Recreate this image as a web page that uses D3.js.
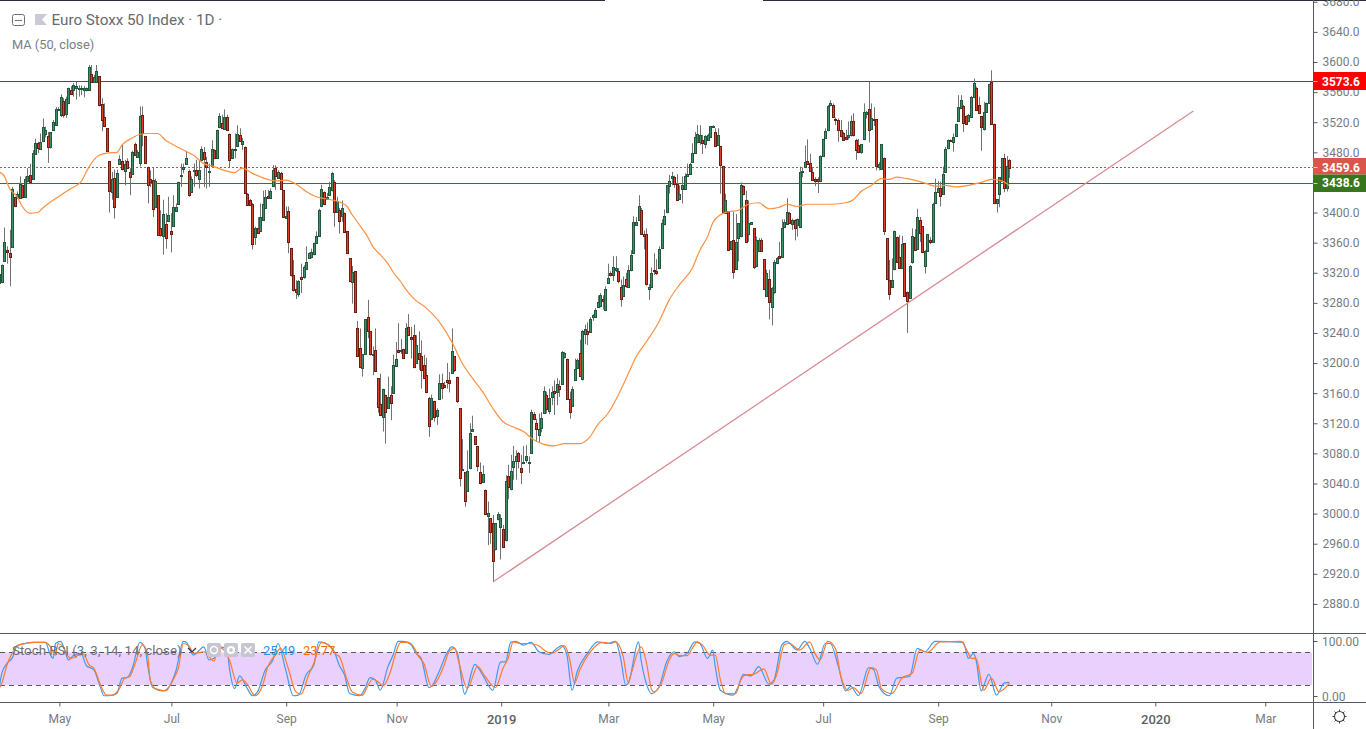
<!DOCTYPE html>
<html><head><meta charset="utf-8"><title>Euro Stoxx 50 Index</title>
<script src="https://cdn.jsdelivr.net/npm/d3@7/dist/d3.min.js"></script>
<style>html,body{margin:0;padding:0;background:#fff;overflow:hidden}svg{display:block}text{font-family:Roboto,sans-serif}</style>
</head><body><svg id="c" width="1366" height="729"></svg>
<script>
const opens=[3306,3307,3336,3350,3346,3354,3420,3420,3420,3436,3420,3441,3450,3445,3478,3493,3485,3494,3505,3502,3487,3510,3517,3537,3530,3548,3531,3545,3563,3563,3565,3565,3565,3563,3562,3563,3584,3574,3574,3581,3544,3527,3512,3468,3428,3446,3421,3465,3468,3456,3469,3454,3452,3491,3475,3465,3529,3502,3460,3444,3443,3408,3423,3379,3369,3385,3389,3376,3382,3402,3412,3450,3458,3465,3455,3428,3456,3456,3445,3470,3481,3467,3455,3462,3483,3473,3513,3519,3511,3527,3505,3472,3484,3488,3503,3491,3487,3424,3417,3412,3367,3379,3376,3391,3406,3422,3420,3436,3459,3446,3453,3430,3393,3402,3353,3317,3298,3292,3314,3314,3325,3340,3340,3344,3360,3370,3408,3427,3418,3423,3429,3441,3401,3404,
3396,3400,3375,3339,3308,3322,3246,3220,3194,3212,3261,3242,3212,3218,3180,3145,3128,3157,3140,3158,3161,3196,3218,3218,3219,3213,3248,3234,3237,3200,3214,3210,3198,3184,3154,3126,3149,3129,3152,3174,3171,3177,3178,3187,3209,3182,3140,3059,3055,3030,3060,3110,3103,3090,3055,3042,3032,2997,2994,2988,2952,2992,2982,2979,2965,3050,3032,3062,3069,3080,3061,3067,3072,3069,3080,3132,3121,3105,3114,3134,3157,3137,3155,3163,3162,3170,3173,3208,3205,3152,3143,3177,3194,3213,3179,3239,3243,3242,3262,3262,3275,3275,3285,3271,3307,3319,3317,3323,3322,3301,3290,3312,3301,3323,3346,3384,3390,3404,3371,3372,3298,3302,3323,3322,3327,3353,3386,3400,3435,3445,3447,3438,3419,
3431,3431,3449,3451,3467,3479,3494,3494,3496,3492,3496,3500,3515,3507,3490,3488,3462,3400,3402,3352,3363,3325,3366,3368,3435,3417,3371,3385,3379,3330,3350,3364,3338,3289,3312,3275,3294,3334,3342,3341,3381,3385,3399,3385,3390,3383,3381,3455,3460,3469,3466,3454,3445,3445,3442,3476,3499,3509,3542,3543,3524,3523,3509,3506,3500,3500,3502,3521,3497,3490,3481,3497,3530,3538,3511,3524,3524,3461,3458,3473,3366,3311,3301,3324,3367,3341,3326,3359,3295,3287,3334,3368,3352,3390,3382,3329,3349,3364,3362,3413,3428,3432,3425,3454,3485,3496,3494,3502,3522,3540,3541,3528,3521,3527,3553,3566,3543,3528,3510,3534,3546,3574,3518,3413,3424,3442,3473,3433,3470];
const highs=[3319,3331,3380,3355,3377,3434,3421,3428,3448,3437,3448,3459,3465,3483,3498,3494,3505,3525,3514,3507,3507,3523,3540,3540,3557,3552,3554,3566,3568,3572,3574,3569,3569,3568,3566,3596,3596,3583,3596,3581,3552,3545,3512,3468,3454,3457,3457,3476,3490,3470,3472,3459,3482,3493,3483,3541,3541,3502,3461,3456,3459,3445,3423,3403,3417,3399,3421,3399,3423,3412,3441,3465,3465,3482,3457,3448,3465,3470,3470,3488,3487,3474,3465,3496,3484,3510,3532,3530,3537,3530,3505,3485,3505,3516,3512,3499,3488,3426,3418,3413,3381,3394,3412,3429,3430,3430,3432,3463,3463,3456,3454,3430,3408,3408,3353,3337,3310,3310,3332,3330,3355,3347,3352,3360,3375,3405,3437,3428,3426,3441,3454,3443,3421,3406,
3416,3400,3375,3339,3329,3322,3256,3246,3212,3258,3284,3242,3222,3246,3180,3186,3166,3158,3182,3169,3211,3228,3253,3232,3219,3253,3265,3248,3251,3237,3242,3230,3211,3207,3155,3158,3150,3140,3185,3186,3175,3200,3188,3246,3209,3182,3140,3099,3055,3084,3120,3130,3103,3090,3068,3064,3032,3016,2994,2998,2987,3002,2999,2985,3051,3065,3078,3090,3084,3082,3078,3090,3091,3076,3138,3135,3126,3133,3135,3169,3162,3166,3169,3177,3180,3177,3216,3215,3206,3162,3169,3206,3206,3231,3244,3251,3254,3261,3265,3273,3290,3293,3290,3302,3332,3322,3342,3342,3326,3311,3315,3320,3330,3350,3395,3394,3423,3406,3376,3379,3305,3327,3346,3338,3355,3391,3404,3436,3450,3454,3449,3451,3436,
3448,3452,3465,3466,3492,3507,3516,3516,3503,3503,3505,3515,3516,3512,3512,3488,3462,3425,3402,3362,3401,3398,3386,3440,3436,3429,3416,3387,3379,3368,3366,3366,3338,3324,3324,3301,3337,3341,3361,3391,3391,3419,3401,3392,3391,3392,3461,3460,3489,3497,3478,3459,3447,3447,3476,3498,3512,3543,3549,3545,3526,3525,3523,3507,3510,3521,3529,3532,3498,3498,3491,3545,3535,3574,3545,3540,3524,3467,3491,3473,3366,3337,3339,3376,3368,3370,3369,3359,3295,3330,3379,3378,3405,3394,3382,3350,3371,3367,3413,3445,3442,3441,3461,3487,3497,3497,3505,3518,3556,3556,3543,3529,3531,3555,3578,3567,3554,3528,3547,3546,3571,3589,3518,3418,3447,3472,3478,3475,3471];
const lows=[3286,3306,3335,3332,3302,3353,3407,3418,3420,3419,3419,3440,3439,3444,3477,3479,3483,3494,3500,3466,3485,3510,3516,3535,3527,3526,3526,3544,3557,3554,3550,3554,3556,3553,3561,3562,3572,3573,3573,3541,3508,3514,3481,3400,3417,3392,3420,3464,3456,3436,3459,3423,3451,3475,3474,3461,3488,3465,3412,3434,3394,3407,3369,3368,3344,3352,3388,3347,3381,3401,3411,3434,3452,3464,3421,3427,3434,3447,3432,3469,3434,3432,3434,3461,3472,3472,3512,3512,3510,3509,3460,3471,3472,3487,3494,3483,3426,3409,3409,3351,3357,3373,3375,3390,3405,3418,3419,3435,3430,3445,3431,3393,3392,3346,3315,3295,3285,3288,3293,3312,3324,3339,3339,3343,3359,3369,3407,3410,3417,3422,3428,3381,3400,3372,
3388,3374,3345,3308,3279,3267,3208,3194,3182,3211,3233,3210,3184,3188,3134,3130,3109,3093,3139,3124,3160,3195,3213,3212,3206,3212,3237,3206,3193,3199,3191,3166,3179,3160,3102,3124,3122,3118,3151,3152,3168,3166,3161,3186,3188,3147,3036,3058,3009,3029,3059,3109,3091,3056,3039,3041,2999,2958,2960,2909,2951,2991,2939,2954,2963,3019,3031,3045,3045,3060,3039,3066,3067,3054,3079,3124,3095,3095,3108,3133,3133,3132,3144,3131,3144,3155,3172,3206,3151,3126,3142,3176,3193,3182,3177,3225,3224,3240,3256,3261,3273,3274,3271,3270,3305,3315,3309,3321,3306,3275,3288,3300,3300,3322,3345,3383,3389,3371,3351,3303,3284,3301,3317,3317,3326,3352,3383,3399,3425,3436,3433,3417,3418,
3412,3430,3448,3450,3466,3478,3492,3490,3478,3485,3495,3499,3513,3487,3489,3425,3400,3399,3349,3350,3312,3324,3335,3367,3423,3361,3361,3384,3325,3329,3349,3348,3297,3288,3258,3250,3292,3332,3338,3340,3380,3384,3385,3377,3363,3368,3380,3447,3459,3464,3454,3442,3435,3426,3441,3475,3498,3508,3541,3527,3516,3494,3500,3495,3496,3497,3501,3501,3470,3479,3478,3496,3525,3493,3510,3515,3456,3456,3457,3370,3311,3284,3300,3323,3333,3326,3325,3288,3240,3286,3332,3350,3351,3361,3346,3319,3348,3358,3361,3412,3427,3408,3424,3453,3484,3494,3481,3501,3521,3539,3507,3517,3520,3526,3552,3536,3531,3482,3509,3533,3545,3518,3413,3400,3407,3441,3427,3428,3446];
const closes=[3318,3330,3361,3347,3341,3431,3408,3424,3438,3420,3444,3448,3441,3479,3492,3486,3494,3513,3510,3487,3507,3520,3538,3537,3554,3529,3551,3565,3558,3570,3568,3566,3566,3565,3565,3593,3574,3580,3588,3542,3523,3515,3482,3428,3445,3407,3453,3471,3457,3465,3460,3448,3481,3476,3481,3528,3505,3466,3436,3440,3404,3442,3370,3370,3398,3366,3397,3372,3407,3407,3441,3450,3461,3473,3423,3445,3456,3449,3457,3485,3472,3461,3455,3484,3473,3510,3528,3513,3527,3510,3470,3484,3484,3504,3495,3495,3426,3410,3410,3359,3379,3373,3394,3412,3420,3420,3429,3457,3448,3454,3432,3394,3396,3361,3317,3297,3294,3309,3312,3327,3334,3346,3347,3359,3369,3404,3431,3411,3421,3434,3452,3401,3415,3390,
3406,3375,3346,3309,3321,3267,3209,3195,3212,3258,3243,3211,3212,3190,3141,3130,3165,3135,3155,3147,3198,3205,3215,3218,3207,3246,3238,3231,3194,3224,3206,3191,3181,3161,3117,3154,3128,3137,3173,3167,3169,3174,3174,3216,3190,3150,3047,3059,3017,3056,3107,3113,3093,3064,3040,3052,3000,3001,2975,2937,2987,2999,2994,2955,3043,3035,3056,3070,3076,3070,3056,3068,3077,3069,3135,3125,3113,3113,3127,3163,3138,3154,3162,3160,3172,3166,3215,3213,3152,3135,3166,3192,3204,3183,3243,3245,3239,3259,3264,3271,3281,3290,3282,3299,3313,3317,3327,3326,3309,3285,3304,3303,3324,3343,3387,3388,3409,3372,3368,3305,3301,3320,3322,3320,3352,3386,3396,3436,3442,3448,3438,3417,3425,
3436,3448,3451,3464,3479,3500,3504,3503,3492,3502,3503,3515,3515,3489,3503,3463,3401,3417,3350,3362,3321,3361,3386,3436,3424,3361,3386,3387,3327,3364,3364,3350,3298,3319,3281,3300,3334,3340,3339,3379,3387,3401,3386,3390,3380,3391,3454,3455,3467,3465,3456,3444,3443,3442,3475,3498,3508,3541,3545,3527,3523,3510,3501,3497,3498,3503,3521,3502,3484,3481,3491,3533,3533,3510,3525,3523,3462,3465,3491,3376,3311,3292,3310,3375,3334,3327,3358,3289,3283,3329,3369,3351,3394,3373,3348,3349,3371,3361,3412,3427,3433,3421,3451,3485,3496,3495,3500,3518,3540,3550,3518,3518,3529,3553,3572,3537,3532,3513,3533,3546,3571,3518,3413,3418,3447,3472,3433,3462,3459.6];
const maBars=[0,2,4,7,9,12,15,17,20,24,28,32,34,37,39,42,46,48,52,55,58,62,65,68,72,76,80,84,88,92,95,99,105,108,112,116,120,124,128,133,136,138,141,144,146,149,152,154,157,159,162,167,172,177,181,185,189,193,197,201,205,209,213,217,221,227,231,234,238,242,246,249,253,258,262,266,271,274,277,279,282,285,289,293,297,301,305,308,312,316,324,331,334,337,341,345,348,351,355,359,363,366,370,374,379,384,388,392,395];
const maValues=[3454,3448,3432,3421,3408,3399,3400,3406,3414,3423,3432,3441,3454,3470,3476,3479,3480,3490,3499,3504,3505,3505,3496,3490,3483,3476,3465,3461,3456,3453,3459,3452,3444,3442,3443,3438,3428,3421,3418,3414,3408,3397,3383,3368,3355,3344,3332,3321,3308,3298,3286,3273,3255,3228,3200,3180,3162,3140,3122,3115,3109,3098,3092,3090,3093,3093,3102,3118,3133,3157,3186,3208,3228,3255,3284,3304,3326,3350,3368,3386,3397,3401,3403,3411,3413,3405,3407,3411,3408,3411,3411,3413,3417,3428,3436,3445,3444,3447,3445,3442,3438,3435,3436,3434,3436,3440,3444,3442,3436];
const kBars=[0,1,3,5,7,9,13,18,20,21,22,24,26,27,29,32,34,37,39,41,43,46,48,50,52,55,57,58,60,64,67,69,72,73,76,80,82,84,86,89,90,92,94,97,99,101,104,107,109,112,115,117,120,123,125,129,131,133,135,137,141,143,145,147,149,152,154,156,158,161,163,165,168,169,172,175,177,179,182,186,189,193,196,198,200,202,205,208,211,215,218,220,222,224,226,230,234,238,241,243,245,246,250,251,253,255,258,261,264,266,269,272,274,277,279,280,282,287,289,291,294,297,301,303,306,308,312,315,317,320,323,325,328,331,333,336,340,342,344,348,351,356,359,362,366,377,379,381,382,384,387,390,393,395];
const kValues=[16,42,60,69,92,95,98,98,75,69,96,100,78,66,74,78,56,48,24,1,1,5,33,34,51,98,87,57,16,10,22,45,100,99,75,90,66,69,90,87,51,14,37,14,1,8,48,66,96,48,1,2,39,57,99,93,81,56,39,5,1,14,34,30,11,54,75,100,100,94,78,69,16,18,45,78,90,81,4,58,39,11,62,63,98,100,93,98,81,76,87,92,75,11,45,78,99,96,100,69,20,24,99,66,24,5,17,63,81,72,78,99,96,69,84,54,11,2,18,40,37,54,22,30,93,100,84,100,87,58,96,96,57,10,18,1,52,48,18,1,33,36,87,81,100,98,69,78,66,10,40,2,24,25.49];
const dBars=[0,1,3,5,7,10,14,18,20,22,23,25,27,28,31,33,35,37,40,42,44,47,49,51,53,56,58,59,61,65,68,70,72,74,76,80,84,85,87,90,93,95,97,100,103,105,108,110,113,116,118,121,123,126,129,132,133,136,138,142,144,146,148,150,153,155,157,160,162,164,166,169,171,174,176,178,180,183,187,190,194,197,199,201,204,207,211,213,216,219,221,223,225,227,231,236,239,241,244,246,247,251,253,255,256,259,262,264,266,269,271,273,275,278,280,282,284,288,290,292,295,299,302,304,307,309,313,317,319,321,324,327,329,332,334,337,341,343,345,349,353,357,360,363,368,376,379,380,382,385,388,391,395];
const dValues=[15,24,57,78,92,96,98,98,90,75,96,90,72,69,75,76,58,51,16,2,2,14,33,36,58,94,75,30,14,10,30,51,96,93,78,81,64,78,87,66,24,30,22,1,20,54,75,87,51,8,4,39,60,98,92,75,72,30,8,2,18,31,27,19,45,78,98,98,90,72,60,18,27,57,82,87,57,14,54,36,16,51,69,99,96,96,92,84,78,86,92,69,24,48,80,98,96,99,72,25,39,90,63,14,8,24,66,78,74,74,87,99,93,75,75,30,5,5,30,39,40,50,22,39,94,96,84,99,78,66,100,87,39,11,16,5,52,48,14,5,33,42,84,80,99,100,78,69,69,11,33,8,23.77];
const priceTicks=[2880,2920,2960,3000,3040,3080,3120,3160,3200,3240,3280,3320,3360,3400,3480,3520,3560,3600,3640,3680];
const timeTickBars=[23.5,67.3,112.2,155.4,196.3,238.2,279.2,322.2,367.2,411.4,452.1,495.1];
const timeTickLabels=["May","Jul","Sep","Nov","2019","Mar","May","Jul","Sep","Nov","2020","Mar"];
const levels=[3573.6,3459.6,3438.6];
const levelLabels=["3573.6","3459.6","3438.6"];
const levelColors=["#ff0000","#d9574a","#38761d"];
const levelDash=[null,"2,2",null];
const trendBars=[193,467];
const trendPrices=[2909,3535];

const svg=d3.select("#c");
const axisX=1313.5;
const x=d3.scaleLinear().domain([0,395]).range([-0.7,1009.3]);
const y=d3.scaleLinear().domain([2880,3640]).range([603.9,31.9]);
const yS=d3.scaleLinear().domain([0,100]).range([696.3,641.3]);
const grey="#555a60",labelGrey="#777b80";

svg.append("defs").html('<clipPath id="pp"><rect x="0" y="0" width="1313" height="633"/></clipPath><clipPath id="sp"><rect x="0" y="634" width="1313" height="68"/></clipPath>');

// Stoch pane band
svg.append("rect").attr("x",0).attr("width",1312).attr("y",yS(80)).attr("height",yS(20)-yS(80)).attr("fill","#e9d0fd");
[80,20].forEach(v=>svg.append("line").attr("x1",0).attr("x2",1313).attr("y1",Math.round(yS(v))+.5).attr("y2",Math.round(yS(v))+.5).attr("stroke",grey).attr("stroke-dasharray","5,4"));

const price=svg.append("g").attr("clip-path","url(#pp)");
// level lines
levels.forEach((v,i)=>{const l=price.append("line").attr("x1",0).attr("x2",1313).attr("y1",Math.floor(y(v))+.5).attr("y2",Math.floor(y(v))+.5).attr("stroke",levelColors[i]==="#d9574a"?"#c94f42":levelColors[i]);if(levelDash[i])l.attr("stroke-dasharray",levelDash[i]);});

// candles
const bars=d3.range(opens.length);
price.append("g").selectAll("line").data(bars).join("line")
 .attr("x1",i=>Math.round(x(i))+.5).attr("x2",i=>Math.round(x(i))+.5)
 .attr("y1",i=>y(highs[i])).attr("y2",i=>y(lows[i])).attr("stroke","#737373");
price.append("g").selectAll("rect").data(bars).join("rect")
 .attr("x",i=>Math.round(x(i))-.5).attr("width",2)
 .attr("y",i=>Math.round(y(Math.max(opens[i],closes[i])))+.5)
 .attr("height",i=>Math.max(1,Math.round(Math.abs(y(opens[i])-y(closes[i])))))
 .attr("fill",i=>closes[i]>=opens[i]?"#3f8f68":"#d9412b")
 .attr("stroke",i=>closes[i]>=opens[i]?"#21573c":"#6e1c12").attr("stroke-width",1);

// MA
price.append("path").datum(maBars.map((b,i)=>[b,maValues[i]]))
 .attr("fill","none").attr("stroke","#ff9040").attr("stroke-width",1.2)
 .attr("d",d3.line().x(d=>x(d[0])).y(d=>y(d[1])).curve(d3.curveMonotoneX));
// Trend line
price.append("line").attr("x1",x(trendBars[0])).attr("y1",y(trendPrices[0])).attr("x2",x(trendBars[1])).attr("y2",y(trendPrices[1])).attr("stroke","#d88a92").attr("stroke-width",1.3);

// Stoch lines
const stoch=svg.append("g").attr("clip-path","url(#sp)");
const sl=d3.line().x(d=>x(d[0])).y(d=>yS(d[1])).curve(d3.curveMonotoneX);
stoch.append("path").attr("d",sl(kBars.map((b,i)=>[b,kValues[i]]))).attr("fill","none").attr("stroke","#3f9bf0").attr("stroke-width",1.2);
stoch.append("path").attr("d",sl(dBars.map((b,i)=>[b,dValues[i]]))).attr("fill","none").attr("stroke","#ff7a2a").attr("stroke-width",1.2);

// frame lines
svg.append("line").attr("x1",0).attr("x2",605).attr("y1",.5).attr("y2",.5).attr("stroke","#2a2e39");
svg.append("line").attr("x1",763).attr("x2",1366).attr("y1",.5).attr("y2",.5).attr("stroke","#2a2e39");
[633.5,702.5].forEach(v=>svg.append("line").attr("x1",0).attr("x2",1366).attr("y1",v).attr("y2",v).attr("stroke",grey));

// Price axis
const ax=svg.append("g").attr("transform",`translate(${axisX},0)`)
 .call(d3.axisRight(y).tickValues(priceTicks).tickSize(4).tickPadding(5).tickFormat(d3.format(".1f")));
ax.select(".domain").remove();
ax.selectAll("line").attr("stroke",grey);
ax.selectAll("text").attr("fill",labelGrey).attr("font-size",12).attr("font-family","Roboto,sans-serif");
svg.append("line").attr("x1",axisX).attr("x2",axisX).attr("y1",0).attr("y2",729).attr("stroke",grey);

// Level tags
const boxes=[[72,90],[158,174.5],[174.5,192]];
levels.forEach((v,i)=>{
 svg.append("rect").attr("x",axisX-.5).attr("y",boxes[i][0]).attr("width",53).attr("height",boxes[i][1]-boxes[i][0]).attr("fill",levelColors[i]);
 svg.append("line").attr("x1",axisX).attr("x2",axisX+4).attr("y1",Math.floor(y(v))+.5).attr("y2",Math.floor(y(v))+.5).attr("stroke","#fff").attr("stroke-opacity",.7);
 svg.append("text").attr("x",1322).attr("y",y(v)-.3).attr("dy","0.35em").attr("fill","#fff").attr("font-size",12).attr("font-weight",700).text(levelLabels[i]);
});

// Stoch axis
[[100,"100.00"],[0,"0.00"]].forEach(([v,t])=>{
 svg.append("line").attr("x1",axisX).attr("x2",axisX+4).attr("y1",Math.round(yS(v))+.5).attr("y2",Math.round(yS(v))+.5).attr("stroke",grey);
 svg.append("text").attr("x",1322).attr("y",yS(v)).attr("dy","0.35em").attr("fill",labelGrey).attr("font-size",12).text(t);
});

// Time axis
const tx=svg.append("g").attr("transform","translate(0,702.5)")
 .call(d3.axisBottom(x).tickValues(timeTickBars).tickSize(4).tickPadding(8).tickFormat((d,i)=>timeTickLabels[i]));
tx.select(".domain").remove();
tx.selectAll("line").attr("stroke",grey);
tx.selectAll("text").attr("fill",(d,i)=>/^20/.test(timeTickLabels[i])?"#5b5f64":labelGrey)
 .attr("font-weight",(d,i)=>/^20/.test(timeTickLabels[i])?500:400)
 .attr("font-size",(d,i)=>/^20/.test(timeTickLabels[i])?13:12).attr("font-family","Roboto,sans-serif");

// Legend header
svg.append("rect").attr("x",12.5).attr("y",14.5).attr("width",12).attr("height",11).attr("rx",2).attr("fill","none").attr("stroke","#6e7178");
svg.append("line").attr("x1",15).attr("x2",22).attr("y1",20.5).attr("y2",20.5).attr("stroke","#6e7178");
svg.append("path").attr("d","M35,14H47L42,19.5L47,25H35Z").attr("fill","#c9cad6");
svg.append("text").attr("x",51.5).attr("y",25).attr("font-size",15.2).attr("fill","#666a72").text("Euro Stoxx 50 Index · 1D ·");
svg.append("text").attr("x",12).attr("y",49).attr("font-size",12.8).attr("fill","#7a7d84").text("MA (50, close)");

// Stoch legend
svg.append("text").attr("x",12).attr("y",655).attr("font-size",13.3).attr("fill","#6f7278").text("Stoch RSI (3, 3, 14, 14, close)");
svg.append("path").attr("d","M188,648L192,652L196,648").attr("fill","none").attr("stroke","#333").attr("stroke-width",1.2);
[207,224,241].forEach(v=>svg.append("rect").attr("x",v).attr("y",643).attr("width",14).attr("height",14).attr("rx",2).attr("fill","#c5c6d0"));
svg.append("circle").attr("cx",214).attr("cy",650).attr("r",3.5).attr("fill","none").attr("stroke","#fff").attr("stroke-width",1.4);
svg.append("circle").attr("cx",231).attr("cy",650).attr("r",3).attr("fill","none").attr("stroke","#fff").attr("stroke-width",2.2);
svg.append("path").attr("d","M244.5,646.5L251.5,653.5M251.5,646.5L244.5,653.5").attr("stroke","#fff").attr("stroke-width",1.6);
svg.append("text").attr("x",263).attr("y",655).attr("font-size",12.8).attr("fill","#2196f3").text("25.49");
svg.append("text").attr("x",303).attr("y",655).attr("font-size",12.8).attr("fill","#ff6d00").text("23.77");

// Settings icon
svg.append("circle").attr("cx",1339.5).attr("cy",716.5).attr("r",5).attr("fill","none").attr("stroke","#3a3d42").attr("stroke-width",1.1);
d3.range(8).forEach(k=>{const a=k*Math.PI/4;svg.append("line").attr("x1",1339.5+5*Math.cos(a)).attr("y1",716.5+5*Math.sin(a)).attr("x2",1339.5+7*Math.cos(a)).attr("y2",716.5+7*Math.sin(a)).attr("stroke","#3a3d42");});
</script></body></html>
